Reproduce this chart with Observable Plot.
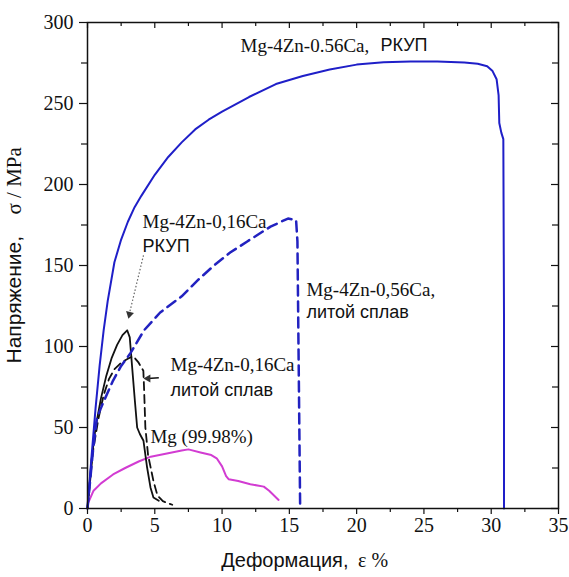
<!DOCTYPE html>
<html>
<head>
<meta charset="utf-8">
<script src="https://cdn.jsdelivr.net/npm/d3@7"></script>
<script src="https://cdn.jsdelivr.net/npm/@observablehq/plot@0.6"></script>
<style>body{margin:0;background:#fff}</style>
</head>
<body>
<div id="chart"></div>
<script>
// ---- data (strain %, stress MPa) ----
const ecap056Strain = [0,0.3,0.6,0.9,1.2,1.5,2.0,2.5,3.0,3.5,4.0,5.0,6.0,7.0,8.0,9.0,10.0,12.0,14.0,16.0,18.0,20.0,22.0,24.0,26.0,28.0,29.0,29.7,30.1,30.4,30.55,30.6,30.75,30.9,30.95,30.95];
const ecap056Stress = [0,32,62,88,110,128,152,166,177,186,193,206,217,226,234,240,245,254,262,267,271,274,275.5,276,276,275.3,274.5,273,270,265,255,238,232,228,120,0];

const cast056Strain = [0,0.4,0.7,1.2,1.9,2.5,3.2,4.2,5.4,7.0,8.2,9.4,10.6,11.9,13.6,14.9,15.5,15.6,15.8];
const cast056Stress = [0,35,56,66,79,88,96,110,121,131,141,150,158,165,174,179,178,165,2];

const ecap016Strain = [0,0.3,0.6,1.0,1.4,1.8,2.2,2.6,2.95,3.14,3.32,3.52,3.69,3.89,4.16,4.43,4.68,4.9,5.3];
const ecap016Stress = [0,30,50,68,82,93,101,107,110,105.6,87,66.5,50,46,41.8,25.3,13,6.8,4.8];

const cast016Strain = [0,0.4,0.8,1.2,1.6,2.0,2.5,3.0,3.4,3.8,4.15,4.2,4.3,4.5,4.9,5.2,5.6,6.3];
const cast016Stress = [0,35,55,70,80,86,90,92.5,94,90,85,75,50,33,17,8,4.5,2.3];

const mgStrain = [0.05,0.45,1.0,1.9,2.8,3.8,4.7,5.9,7.0,7.5,8.4,9.2,9.6,10.0,10.3,10.5,11.2,12.1,13.1,13.5,14.2];
const mgStress = [3.5,11,15.5,21,25,29,32,34,35.8,36.5,34.6,33,31,26,20,18,17,15,13.5,11,5.3];

// ---- ticks ----
const xMajor = [0,5,10,15,20,25,30,35];
const xMinor = [2.5,7.5,12.5,17.5,22.5,27.5,32.5];
const yMajor = [0,50,100,150,200,250,300];
const yMinor = [25,75,125,175,225,275];

// ---- annotations ----
const serifLabels = [
  {x:11.37, y:285.8, t:"Mg-4Zn-0.56Ca,"},
  {x:4.09, y:177, t:"Mg-4Zn-0,16Ca"},
  {x:6.17, y:88.8, t:"Mg-4Zn-0,16Ca"},
  {x:16.27, y:135, t:"Mg-4Zn-0,56Ca,"},
  {x:4.68, y:44, t:"Mg (99.98%)"}
];
const sansLabels = [
  {x:21.77, y:285.8, t:"РКУП"},
  {x:4.09, y:162, t:"РКУП"},
  {x:6.17, y:73.3, t:"литой сплав"},
  {x:16.27, y:121.3, t:"литой сплав"}
];
const dottedArrow = [{x1:4.16, y1:156.3, x2:3.12, y2:120.5}];
const shortArrow = [{x1:5.3, y1:80.7, x2:4.5, y2:80.3}];
const arrowHeads = [{x:3.12, y:119.9, r:193}, {x:4.5, y:80.2, r:270}];

const serif = "Liberation Serif, Times New Roman, serif";
const sans = "Liberation Sans, Arial, sans-serif";
const ink = "#111111";
const W = 569, H = 577, mL = 87, mR = 11, mT = 22, mB = 69;
const fw = W - mL - mR, fh = H - mT - mB;
const pts = (xs, ys) => xs.map((x, i) => ({x, y: ys[i]}));

// tick rules: inward or outward via insets relative to the frame
const xTicks = (vals, len, side) => side === "bottom"
  ? Plot.ruleX(vals, {x: d => d, insetTop: fh, insetBottom: -len, stroke: ink, strokeWidth: 1.2})
  : Plot.ruleX(vals, {x: d => d, insetBottom: fh - len, stroke: ink, strokeWidth: 1.2});
const yTicks = (vals, len, side) => side === "left"
  ? Plot.ruleY(vals, {y: d => d, insetRight: fw, insetLeft: -len, stroke: ink, strokeWidth: 1.2})
  : Plot.ruleY(vals, {y: d => d, insetLeft: fw - len, stroke: ink, strokeWidth: 1.2});

const chart = Plot.plot({
  width: W, height: H,
  marginLeft: mL, marginRight: mR, marginTop: mT, marginBottom: mB,
  x: {domain: [0, 35], label: null, axis: null},
  y: {domain: [0, 300], label: null, axis: null},
  style: {background: "#fff", color: ink},
  marks: [
    Plot.line(pts(mgStrain, mgStress), {x: "x", y: "y", stroke: "#d23cd2", strokeWidth: 2}),
    Plot.line(pts(cast016Strain, cast016Stress), {x: "x", y: "y", stroke: ink, strokeWidth: 1.8, strokeDasharray: "8,5"}),
    Plot.line(pts(ecap016Strain, ecap016Stress), {x: "x", y: "y", stroke: ink, strokeWidth: 1.8}),
    Plot.line(pts(cast056Strain, cast056Stress), {x: "x", y: "y", stroke: "#2222c0", strokeWidth: 2.5, strokeDasharray: "10,6"}),
    Plot.line(pts(ecap056Strain, ecap056Stress), {x: "x", y: "y", stroke: "#1f1fc8", strokeWidth: 2}),

    Plot.link(dottedArrow, {x1: "x1", y1: "y1", x2: "x2", y2: "y2", stroke: "#666", strokeWidth: 1.2, strokeDasharray: "1.5,2"}),
    Plot.link(shortArrow, {x1: "x1", y1: "y1", x2: "x2", y2: "y2", stroke: ink, strokeWidth: 1.5}),
    Plot.dot(arrowHeads, {x: "x", y: "y", symbol: "triangle", r: 3, fill: "#333", stroke: "none", rotate: "r"}),

    Plot.text(serifLabels, {x: "x", y: "y", text: "t", textAnchor: "start", fontFamily: serif, fontSize: 19, fill: ink}),
    Plot.text(sansLabels, {x: "x", y: "y", text: "t", textAnchor: "start", fontFamily: sans, fontSize: 18, fill: ink}),

    Plot.frame({stroke: ink, strokeWidth: 1.5}),
    xTicks(xMajor, 6, "bottom"), xTicks(xMinor, 4, "bottom"),
    xTicks(xMajor, 6, "top"), xTicks(xMinor, 4, "top"),
    yTicks(yMajor, 8, "left"), yTicks(yMinor, 6, "left"),
    yTicks(yMajor, 7, "right"), yTicks(yMinor, 6, "right"),

    // tick labels
    Plot.text(xMajor, {x: d => d, text: d => String(d), frameAnchor: "bottom", dy: 23, fontFamily: serif, fontSize: 20, fill: ink}),
    Plot.text(yMajor, {y: d => d, text: d => String(d), frameAnchor: "left", textAnchor: "end", dx: -14, fontFamily: serif, fontSize: 20, fill: ink}),

    // axis titles
    Plot.text(["Деформация,"], {frameAnchor: "bottom", textAnchor: "end", dx: 25.5, dy: 58, fontFamily: sans, fontSize: 20, fill: ink}),
    Plot.text(["ε %"], {frameAnchor: "bottom", textAnchor: "start", dx: 35, dy: 58, fontFamily: serif, fontSize: 20, fill: ink}),
    Plot.text(["Напряжение,"], {frameAnchor: "bottom-left", rotate: -90, textAnchor: "start", dx: -67, dy: -145, fontFamily: sans, fontSize: 21, fill: ink}),
    Plot.text(["σ / MPa"], {frameAnchor: "bottom-left", rotate: -90, textAnchor: "start", dx: -67, dy: -294, fontFamily: serif, fontSize: 21, fill: ink})
  ]
});
document.getElementById("chart").appendChild(chart);
</script>
</body>
</html>
